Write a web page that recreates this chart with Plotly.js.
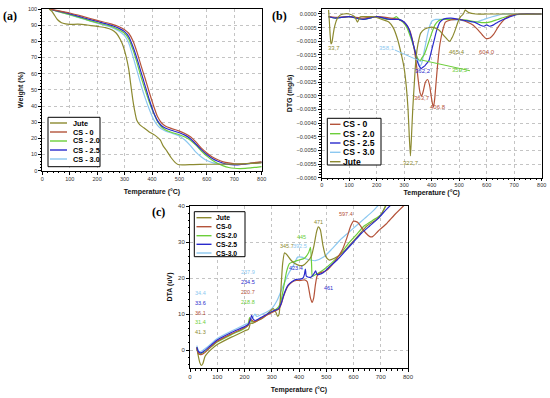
<!DOCTYPE html>
<html><head><meta charset="utf-8">
<script src="https://cdn.plot.ly/plotly-3.0.1.min.js"></script>
<style>html,body{margin:0;padding:0;background:#fff}#chart{width:550px;height:398px}</style>
</head><body><div id="chart"></div>
<script>
// ---------- (a) TGA : weight (%) vs temperature ----------
const tgaJuteT = [25,35,45,55,70,85,100,130,160,200,230,255,270,285,295,305,315,322,330,338,345,355,370,390,410,430,440,455,470,485,495,510,550,600,650,700,750,800];
const tgaJuteW = [100,98.5,96,93.5,91.5,90.8,90.5,90.6,90.2,89.2,88.5,87,85,81,77,71,63,54,44,36,31,28.5,26.5,24,22,19,15.5,12,8,5,3.8,3.6,3.8,4,4,4.1,4.4,4.8];
const tgaCsT = [25,50,100,150,200,250,280,300,315,330,345,360,375,390,405,420,435,450,470,500,520,540,560,580,600,620,640,660,680,700,720,740,760,780,800];
const tgaCs0W  = [100,99.2,97.5,95.3,93,90.8,89,87.2,85,80.5,73.5,65,57,48.5,40.5,33.5,29.5,27.5,26.2,24.5,23,21,17.8,14,11,8.5,6.8,5.5,4.8,4.3,4.1,4.3,4.7,5.1,5.5];
const tgaCs20W = [100,98.8,96.5,94,91.5,89.3,87,85,81.5,75,67,58,50,42.5,36,30.5,27,25.2,23.8,22.2,20.8,18.8,15.8,12.2,9,6.5,4.5,3.0,2.0,1.5,1.3,1.4,1.7,2.1,2.5];
const tgaCs25W = [100,99,97,94.6,92.3,90,88,86,83,77,69.5,61,52.5,44,36.5,31,27.8,26.2,25,23.5,22,19.8,16.5,13,10,7.5,5.8,4.6,3.9,3.6,3.7,4.1,4.5,4.9,5.3];
const tgaCs30W = [100,98.7,96.4,93.8,91.2,88.8,86.3,83.5,79,71,62,53,45,38,32,28,25.8,24.5,23.3,21.5,19,15.5,11.5,8.5,6.3,5,4.3,4,3.9,4,4.1,4.3,4.5,4.7,5];

// ---------- (b) DTG (mg/s) ----------
const dtgJuteT = [25,28,31,34,37,41,46,55,66,80,100,120,130,140,160,190,220,245,260,275,290,300,308,314,319,322.7,326,331,337,343,350,360,375,400,425,445,458,466,475,485,495,505,515,522,528,535,560,600,700,800];
const dtgJuteV = [0.00015,-0.0003,-0.0008,-0.0011,-0.00105,-0.0008,-0.0005,-0.0002,-0.00005,0,0,-0.0001,-0.0003,-0.0001,-0.0001,-0.0001,-0.0002,-0.0003,-0.0005,-0.0009,-0.0015,-0.002,-0.0027,-0.0035,-0.0046,-0.0052,-0.0046,-0.0035,-0.0025,-0.0016,-0.0011,-0.0007,-0.00055,-0.00048,-0.00058,-0.0008,-0.00095,-0.001,-0.00085,-0.0006,-0.0003,-0.0001,0,0.00015,0.0001,0.00005,0,0,0,0];
const dtgCs0T = [25,50,100,150,200,250,280,300,320,335,345,352,358,363.7,370,377,385,392,398,403,406.8,411,416,422,430,440,450,470,500,530,550,570,585,597,604,612,625,640,655,670,690,720,800];
const dtgCs0V = [-0.0001,-0.00012,-0.0001,-0.00015,-0.0001,-0.00015,-0.0002,-0.0003,-0.0006,-0.0012,-0.0019,-0.0025,-0.0029,-0.003,-0.0028,-0.0025,-0.0024,-0.0026,-0.003,-0.0033,-0.0034,-0.0031,-0.0025,-0.0018,-0.0011,-0.0006,-0.0003,-0.00022,-0.0002,-0.0003,-0.0004,-0.0006,-0.00078,-0.0009,-0.0009,-0.00088,-0.00075,-0.0005,-0.0003,-0.00015,-0.00005,0,0];
const dtgCs20T = [25,50,100,150,200,240,262,272,282,295,310,325,338,348,355,359.5,365,372,380,390,400,412,425,440,460,500,540,570,590,610,640,670,700,800];
const dtgCs20V = [-0.0001,-0.00015,-0.0001,-0.0002,-0.0001,-0.0002,-0.00015,-0.0001,-0.0002,-0.0003,-0.0005,-0.0009,-0.0013,-0.0016,-0.0017,-0.0017,-0.0016,-0.0015,-0.0013,-0.001,-0.0007,-0.0004,-0.00025,-0.0002,-0.0002,-0.0002,-0.00025,-0.0003,-0.00032,-0.0003,-0.0002,-0.0001,-0.00003,0];
const dtgCs25T = [25,50,100,150,200,250,280,300,315,328,340,350,357,362.2,368,375,383,390,398,408,418,430,445,470,500,530,555,575,590,600,610,625,640,660,685,720,800];
const dtgCs25V = [-0.0001,-0.00015,-0.0001,-0.0002,-0.0001,-0.0002,-0.0002,-0.0003,-0.0005,-0.0009,-0.0014,-0.0018,-0.00195,-0.002,-0.00195,-0.0019,-0.0018,-0.0017,-0.0014,-0.001,-0.0006,-0.0003,-0.00018,-0.00015,-0.0002,-0.00025,-0.0003,-0.0004,-0.00045,-0.0004,-0.00045,-0.0004,-0.0003,-0.0002,-0.0001,0,0];
const dtgCs30T = [25,50,100,150,200,250,280,300,318,332,343,352,358.1,364,370,378,386,394,402,415,435,470,520,560,590,620,640,660,700,800];
const dtgCs30V = [-0.0001,-0.00015,-0.0001,-0.0002,-0.0001,-0.0002,-0.0002,-0.0003,-0.0006,-0.0011,-0.0015,-0.0018,-0.0019,-0.0018,-0.0015,-0.0011,-0.0007,-0.0004,-0.00025,-0.0002,-0.0002,-0.0002,-0.00025,-0.0003,-0.0002,-0.0001,-0.00005,0,0,0];
const dtgPeakLabels = ['33,7','358,1','362,2','363,7','406,8','322,7','359,5','465,4','604,0'];

// ---------- (c) DTA (uV) ----------
const dtaJuteT = [25,30,36,41.3,47,55,65,80,100,150,200,215,222,228,240,270,290,305,315,322,327,333,340,347,355,370,385,400,415,430,445,455,465,471,478,488,498,510,530,560,590,620,650,680,700,722];
const dtaJuteV = [0.8,-1.5,-3.5,-4.3,-3.8,-1.8,-0.8,0.3,1.5,3.5,5.3,5.8,7.5,7.4,7.8,9,10.5,11.5,10.5,9.3,10,16,24,27,26.5,25,24,23.5,23.5,24.5,26,29,33,34.2,33.5,29,26,25,25.5,27,29.5,32,34.5,36,37.5,40.5];
const dtaCs0T = [25,30,38,50,75,100,150,200,215,220.7,226,232,240,260,290,310,325,335,345,360,375,390,405,420,430,436,442,448,454,460,466,472,480,500,520,540,560,575,590,600,615,630,645,660,670,690,720,750,790];
const dtaCs0V = [0.5,-0.8,-1.3,-1.0,0.8,2.4,4.4,6.2,7.0,8.6,8.3,8.0,7.9,8.7,10,10.8,11.3,12.8,15.3,17.8,18.9,19.3,19.3,19.5,19,17,14.5,13.2,14.5,18,20.5,21.2,21.5,22,23.5,25.5,28,31,34.5,35.8,35.5,34,32.5,31.5,31.5,33,35,37.5,40.5];
const dtaCs20T = [25,31.4,40,55,80,100,150,200,212,218.8,225,235,260,290,310,325,335,345,355,365,380,400,420,435,442,446,449,455,470,490,520,550,580,610,640,670,700,720];
const dtaCs20V = [0.5,-1.2,-1.0,-0.5,1.0,2.2,4.2,6.0,6.8,9.0,8.0,7.8,8.8,10.2,11,12,14,18,22,24,24.5,25,25.5,27,28.5,24,20.5,20.7,21.3,22.3,24.2,26.5,29.5,32,34.5,36,37.5,40.5];
const dtaCs25T = [25,30,38,50,75,100,150,200,215,222,226,232,240,260,290,310,325,335,345,360,375,390,405,415,420,423.4,427,435,445,455,461,466,475,490,510,540,570,600,630,660,690,720,740];
const dtaCs25V = [0.8,-0.3,-0.8,-0.4,1.2,2.8,4.8,6.5,7.2,8.5,9.6,8.6,8.2,9,10.3,11,11.5,13,15.5,18,19,19.6,19.7,20,21,22.5,20.5,20.2,20.3,21.2,22,21,21,21.5,23,25,27.5,30,32.5,34.5,36.5,39,40.5];
const dtaCs30T = [25,30,34.4,45,60,100,150,200,215,230,237.9,245,260,280,300,320,340,360,380,395,410,430,460,490,520,550,580,610,640,670,695];
const dtaCs30V = [1.2,0,-0.5,-0.2,0.6,3.2,5.2,7.0,7.6,9.0,10.0,9.3,9.8,10.5,11.5,13.8,17.5,21,23.5,25.8,25.8,25.2,24.8,25.8,28,30.5,32.5,34.5,36.5,38.5,40.5];
const dtaPeakLabels = ['34.4','33.6','36.1','31.4','41.3','237.9','234.5','220.7','218.8','345.7','392.5','423.4','445','471','461','597.4'];

const namesA = ['Jute','CS - 0','CS - 2.0','CS - 2.5','CS - 3.0'];
const namesB = ['CS - 0','CS - 2.0','CS - 2.5','CS - 3.0','Jute'];
const namesC = ['Jute','CS-0','CS-2.0','CS-2.5','CS-3.0'];

// ---------- styles ----------
const C = {jute:'#8c8a30', cs0:'#b4533a', cs20:'#6cce3a', cs25:'#2a2acc', cs30:'#8cc8f0'};
const FONT = 'Liberation Sans, Arial, sans-serif';
const W = 550, H = 398;
const px = v => v / W, py = v => 1 - v / H;

function tr(x, y, color, xa, ya) {
  return {x:x, y:y, type:'scatter', mode:'lines', line:{color:color, width:1.2, shape:'spline', smoothing:0.6},
          xaxis:xa, yaxis:ya, showlegend:false, hoverinfo:'skip'};
}
const data = [
  tr(tgaCsT, tgaCs30W, C.cs30, 'x', 'y'),
  tr(tgaCsT, tgaCs20W, C.cs20, 'x', 'y'),
  tr(tgaCsT, tgaCs25W, C.cs25, 'x', 'y'),
  tr(tgaCsT, tgaCs0W,  C.cs0,  'x', 'y'),
  tr(tgaJuteT, tgaJuteW, C.jute, 'x', 'y'),

  tr(dtgCs30T, dtgCs30V, C.cs30, 'x2', 'y2'),
  tr(dtgCs20T, dtgCs20V, C.cs20, 'x2', 'y2'),
  tr(dtgCs0T,  dtgCs0V,  C.cs0,  'x2', 'y2'),
  tr(dtgCs25T, dtgCs25V, C.cs25, 'x2', 'y2'),
  tr(dtgJuteT, dtgJuteV, C.jute, 'x2', 'y2'),

  tr(dtaCs30T, dtaCs30V, C.cs30, 'x3', 'y3'),
  tr(dtaCs20T, dtaCs20V, C.cs20, 'x3', 'y3'),
  tr(dtaJuteT, dtaJuteV, C.jute, 'x3', 'y3'),
  tr(dtaCs0T,  dtaCs0V,  C.cs0,  'x3', 'y3'),
  tr(dtaCs25T, dtaCs25V, C.cs25, 'x3', 'y3')
];

function ax(extra) {
  return Object.assign({
    showline:true, linecolor:'#000', linewidth:1, mirror:true,
    ticks:'outside', ticklen:3, tickwidth:1, tickcolor:'#000',
    showgrid:true, gridcolor:'#c4c4c4', griddash:'dot', gridwidth:1,
    zeroline:false, tickfont:{family:FONT, size:5.5, color:'#333'},
    minor:{ticks:'outside', ticklen:1.5, tickcolor:'#000', showgrid:false},
    fixedrange:true
  }, extra);
}
const titleFont = {family:FONT, size:7, color:'#111', weight:'bold'};
const tempTitle = s => ({text:'Temperature (°C)', font:titleFont, standoff:s});

const layout = {
  width:W, height:H, margin:{l:0, r:0, t:0, b:0}, paper_bgcolor:'#fff', plot_bgcolor:'#fff',
  font:{family:FONT},
  xaxis: ax({domain:[px(42.3), px(261.7)], range:[0,800], dtick:100, anchor:'y', title:tempTitle(7)}),
  yaxis: ax({domain:[py(170.7), py(9)], range:[0,100], dtick:10, anchor:'x',
             title:{text:'Weight (%)', font:titleFont, standoff:3}}),
  xaxis2: ax({domain:[px(321.7), px(541.7)], range:[0,800], dtick:100, anchor:'y2', title:tempTitle(2), ticklen:2}),
  yaxis2: ax({domain:[py(177.7), py(9.3)], range:[-0.006, 0.000172], dtick:0.0005, tick0:0, tickformat:'.4f', anchor:'x2',
             title:{text:'DTG (mg/s)', font:titleFont, standoff:3}}),
  xaxis3: ax({domain:[px(190), px(408)], range:[0,800], dtick:100, anchor:'y3', title:tempTitle(7),
             tickfont:{family:FONT, size:6, color:'#333'}}),
  yaxis3: ax({domain:[py(368), py(206)], range:[-5,40], dtick:10, tick0:0, anchor:'x3',
             tickfont:{family:FONT, size:6, color:'#333'},
             title:{text:'DTA (uV)', font:titleFont, standoff:4}}),
  shapes:[], annotations:[]
};

// panel letters
[['(a)',10,16],['(b)',279,16],['(c)',158,211.7]].forEach(p => layout.annotations.push({
  text:p[0], x:px(p[1]), y:py(p[2]), xref:'paper', yref:'paper', showarrow:false,
  xanchor:'center', yanchor:'middle', font:{family:'Liberation Serif, Times New Roman, serif', size:12, color:'#000', weight:'bold'}
}));

// hand-drawn legends (compact, like the original)
function legend(names, colors, box, rowY, lx0, lx1, tx, fs) {
  layout.shapes.push({type:'rect', xref:'paper', yref:'paper', x0:px(box[0]), x1:px(box[2]), y0:py(box[1]), y1:py(box[3]),
    line:{color:'#000', width:1}, fillcolor:'#fff', layer:'above'});
  names.forEach((n,i) => {
    layout.shapes.push({type:'line', xref:'paper', yref:'paper', x0:px(lx0), x1:px(lx1), y0:py(rowY[i]), y1:py(rowY[i]),
      line:{color:colors[i], width:1.4}, layer:'above'});
    layout.annotations.push({text:n, x:px(tx), y:py(rowY[i]), xref:'paper', yref:'paper', showarrow:false,
      xanchor:'left', yanchor:'middle', font:{family:FONT, size:fs, color:'#000', weight:'bold'}});
  });
}
legend(namesA, [C.jute,C.cs0,C.cs20,C.cs25,C.cs30], [48,117.3,100,166.7], [123,132,141,150,159], 50, 67, 70.5, 7.3);
legend(namesB, [C.cs0,C.cs20,C.cs25,C.cs30,C.jute], [327.3,118.3,381,165], [124.3,133.7,143,152.3,161.7], 330, 340.5, 341.5, 8.6);
legend(namesC, [C.jute,C.cs0,C.cs20,C.cs25,C.cs30], [194.3,211.7,245,256.7], [217.7,226.7,235.7,244.3,253], 196.5, 211.5, 213.5, 6.8);

// (b) peak labels
const dtgLabelPos = [[45,-0.00125,C.jute],[237,-0.00125,C.cs30],[368,-0.00209,C.cs25],[365,-0.00308,C.cs0],[423,-0.00341,C.cs0],
                     [325,-0.00545,C.jute],[503,-0.00205,C.cs20],[492,-0.00139,C.jute],[601,-0.00139,C.cs0]];
dtgPeakLabels.forEach((t,i) => layout.annotations.push({text:t, x:dtgLabelPos[i][0], y:dtgLabelPos[i][1], xref:'x2', yref:'y2',
  showarrow:false, font:{family:FONT, size:6, color:dtgLabelPos[i][2]}}));
layout.shapes.push({type:'line', xref:'x2', yref:'y2', x0:266, y0:-0.00132, x1:363, y1:-0.00175, line:{color:C.cs30, width:1}});
layout.shapes.push({type:'line', xref:'x2', yref:'y2', x0:364, y0:-0.00169, x1:539, y1:-0.00208, line:{color:C.cs20, width:1}});

// (c) peak labels
const dtaLabelPos = [[37,15.8,C.cs30],[37,13.1,C.cs25],[37,10.3,C.cs0],[37,7.8,C.cs20],[37,5.0,C.jute],
                     [213,21.7,C.cs30],[213,18.9,C.cs25],[213,16.1,C.cs0],[213,13.3,C.cs20],
                     [356,28.9,C.jute],[404,28.9,C.cs30],[389,22.9,C.cs25],[410,31.5,C.cs20],[473,35.6,C.jute],[510,17.3,C.cs25],[572,37.8,C.cs0]];
dtaPeakLabels.forEach((t,i) => layout.annotations.push({text:t, x:dtaLabelPos[i][0], y:dtaLabelPos[i][1], xref:'x3', yref:'y3',
  showarrow:false, font:{family:FONT, size:5.5, color:dtaLabelPos[i][2]}}));

Plotly.newPlot('chart', data, layout, {staticPlot:true, displayModeBar:false});
</script></body></html>
